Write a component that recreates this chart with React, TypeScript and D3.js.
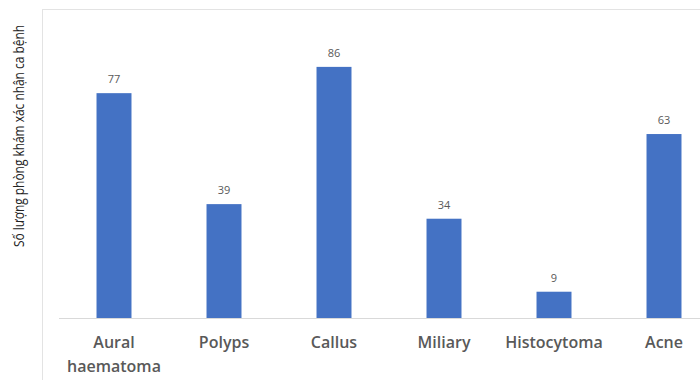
import React from "react";
import * as d3 from "d3";

const categories = ["Aural haematoma", "Polyps", "Callus", "Miliary", "Histocytoma", "Acne"];
const labelLines = [["Aural", "haematoma"], ["Polyps"], ["Callus"], ["Miliary"], ["Histocytoma"], ["Acne"]];
const values = [77, 39, 86, 34, 9, 63];
const yTitle = "Số lượng phòng khám xác nhận ca bệnh";

export default function App() {
  const W = 700, H = 380;
  const x = d3.scaleBand<string>().domain(categories).range([59, 719]).paddingInner(0.682).paddingOuter(0.341);
  const y = d3.scaleLinear().domain([0, 100]).range([318, 26]);
  return (
    <svg width={W} height={H} style={{ position: "absolute", left: 0, top: 0, background: "#fff" }}>
      <rect x={0} y={0} width={W} height={H} fill="#fff" />
      <line x1={42.5} x2={42.5} y1={9} y2={H} stroke="#e3e3e3" />
      <line x1={42} x2={W} y1={9.5} y2={9.5} stroke="#e3e3e3" />
      <line x1={59} x2={W} y1={318.5} y2={318.5} stroke="#d9d9d9" />
      {categories.map((c, i) => (
        <g key={c}>
          <rect x={x(c)!} y={y(values[i])} width={x.bandwidth()} height={y(0) - y(values[i])} fill="#4472C4" />
          <text x={x(c)! + x.bandwidth() / 2} y={y(values[i]) - 10} textAnchor="middle" fontFamily="Open Sans, sans-serif" fontSize={11} fill="#595959">{values[i]}</text>
          {labelLines[i].map((l, j) => (
            <text key={j} x={x(c)! + x.bandwidth() / 2} y={348 + j * 24} textAnchor="middle" fontFamily="Open Sans, sans-serif" fontSize={16} fontWeight={600} fill="#595959">{l}</text>
          ))}
        </g>
      ))}
      <text transform="translate(24,136) rotate(-90)" textAnchor="middle" fontFamily="'Open Sans', sans-serif" fontSize={14} textLength={222} lengthAdjust="spacingAndGlyphs" fill="#222">{yTitle}</text>
    </svg>
  );
}
